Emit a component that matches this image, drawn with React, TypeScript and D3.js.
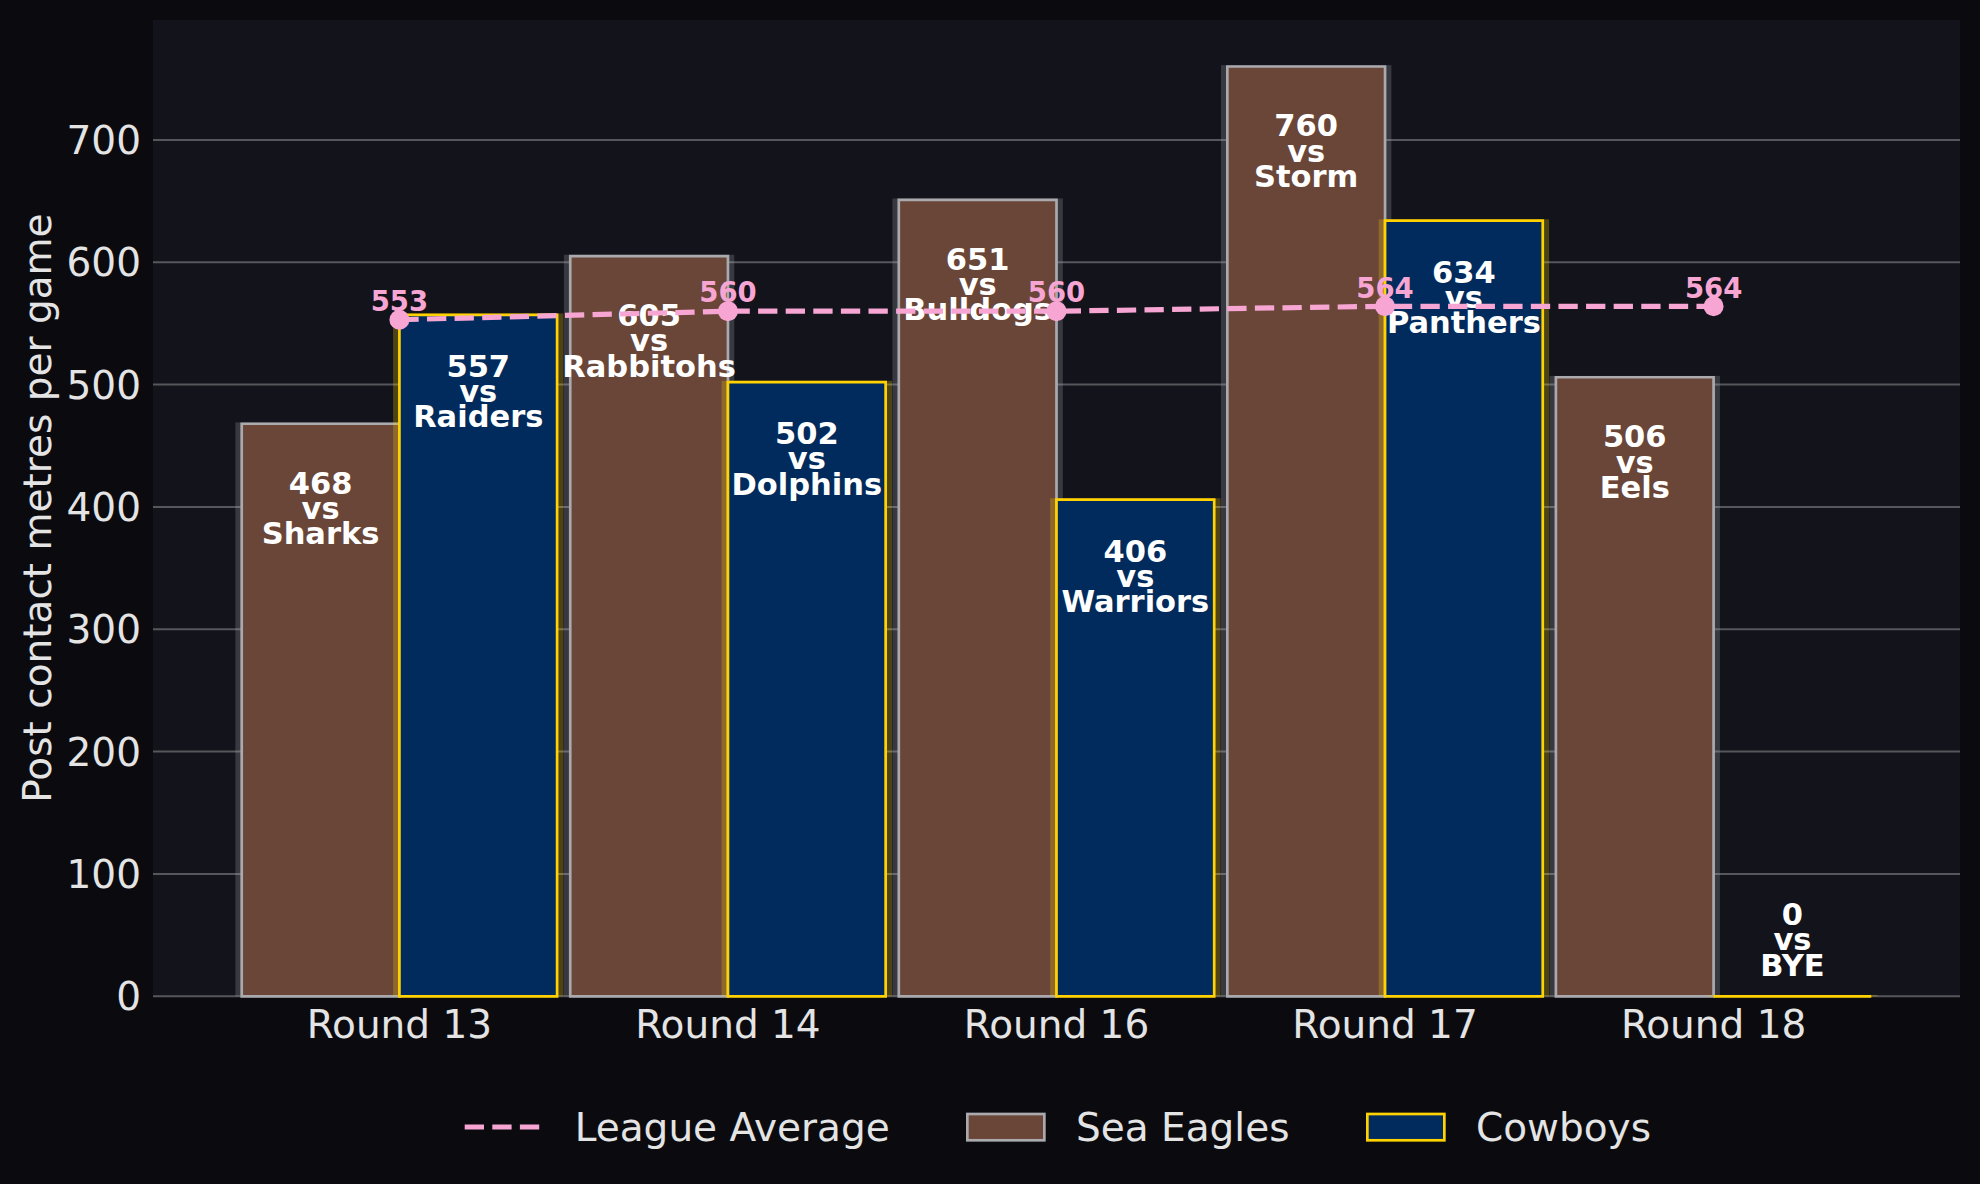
import React, { useEffect } from 'react';
import * as d3 from 'd3';

const rounds = ['Round 13', 'Round 14', 'Round 16', 'Round 17', 'Round 18'];
const seaEagles = [468, 605, 651, 760, 506];
const cowboys = [557, 502, 406, 634, 0];
const seaEaglesOpp = ['Sharks', 'Rabbitohs', 'Bulldogs', 'Storm', 'Eels'];
const cowboysOpp = ['Raiders', 'Dolphins', 'Warriors', 'Panthers', 'BYE'];
const leagueAvg = [553, 560, 560, 564, 564];
const yTicks = [0, 100, 200, 300, 400, 500, 600, 700];
const legendLabels = ['League Average', 'Sea Eagles', 'Cowboys'];

const W = 1980;
const H = 1184;
const FONT = "'DejaVu Sans', 'Liberation Sans', sans-serif";
const BG = '#0b0b0f';
const PLOT_BG = '#13131b';
const GRID = '#56565c';
const TEXT = '#e4e4e4';
const PINK = '#f7a6d3';
const SE_FILL = '#6a4638';
const SE_EDGE = '#a9a9ae';
const CB_FILL = '#002b5c';
const CB_EDGE = '#ffd200';
const MAIN_FS = 39;
const BAR_FS = 30.5;
const AVG_FS = 27.5;

const plot = { left: 153, right: 1960, top: 20, bottom: 996.3 };

export default function App() {
  useEffect(() => {
    document.body.style.margin = '0';
    document.body.style.background = BG;
  }, []);

  const x = d3.scaleLinear().domain([-0.75, 4.75]).range([plot.left, plot.right]);
  const y = d3.scaleLinear().domain([0, 798]).range([plot.bottom, plot.top]);
  const bw = 0.48;
  const pxW = x(bw) - x(0);

  const series = [
    { name: 'Sea Eagles', values: seaEagles, opp: seaEaglesOpp, fill: SE_FILL, edge: SE_EDGE, off: -bw, labelOff: 70 },
    { name: 'Cowboys', values: cowboys, opp: cowboysOpp, fill: CB_FILL, edge: CB_EDGE, off: 0, labelOff: 62 },
  ];

  const barPath = (x0: number, y0: number, w: number, h: number) => {
    const p = d3.path();
    p.moveTo(x0, y0);
    p.lineTo(x0 + w, y0);
    p.lineTo(x0 + w, y0 + h);
    p.lineTo(x0, y0 + h);
    p.closePath();
    return p.toString();
  };

  const line = d3
    .line<number>()
    .x((_, i) => x(i))
    .y((d) => y(d));

  const lineH = 25.3;
  const legendY = 1127;
  const legendX = [464.7, 966, 1366];

  return (
    <svg
      width={W}
      height={H}
      style={{ position: 'absolute', left: 0, top: 0, display: 'block', background: BG }}
      fontFamily={FONT}
    >
      <rect x={0} y={0} width={W} height={H} fill={BG} />
      <rect x={plot.left} y={plot.top} width={plot.right - plot.left} height={plot.bottom - plot.top} fill={PLOT_BG} />

      {/* grid */}
      {yTicks.map((t) => (
        <line key={'g' + t} x1={plot.left} x2={plot.right} y1={y(t)} y2={y(t)} stroke={GRID} strokeWidth={2} />
      ))}

      {/* bars */}
      {series.map((s) => (
        <g key={s.name}>
          {s.values.map((v, i) => {
            const x0 = x(i + s.off);
            const top = y(v);
            return (
              <rect
                key={'sh' + i}
                x={x0 - 6.35}
                y={top - 1.35}
                width={pxW + 12.7}
                height={y(0) - top + 1.35}
                fill={s.edge}
                opacity={0.25}
              />
            );
          })}
          {s.values.map((v, i) => {
            const x0 = x(i + s.off);
            const top = y(v);
            return (
              <path
                key={'b' + i}
                d={barPath(x0, top, pxW, y(0) - top)}
                fill={s.fill}
                stroke={s.edge}
                strokeWidth={2.7}
              />
            );
          })}
        </g>
      ))}

      {/* bar labels */}
      {series.map((s) =>
        s.values.map((v, i) => {
          const cx = x(i + s.off + bw / 2);
          const top = y(v);
          const lines = [String(v), 'vs', s.opp[i]];
          const firstBase = v > 60 ? top + s.labelOff : top - 20.6 - 2 * lineH;
          return (
            <text
              key={s.name + 'l' + i}
              x={cx}
              y={firstBase}
              textAnchor="middle"
              fill="#ffffff"
              fontWeight="bold"
              fontSize={BAR_FS}
            >
              {lines.map((t, k) => (
                <tspan key={k} x={cx} y={firstBase + k * lineH}>
                  {t}
                </tspan>
              ))}
            </text>
          );
        })
      )}

      {/* league average line */}
      <path
        d={line(leagueAvg) || ''}
        fill="none"
        stroke={PINK}
        strokeWidth={5.2}
        strokeDasharray="19.3 8.3"
      />
      {leagueAvg.map((v, i) => (
        <circle key={'m' + i} cx={x(i)} cy={y(v)} r={10} fill={PINK} />
      ))}
      {leagueAvg.map((v, i) => (
        <text
          key={'ml' + i}
          x={x(i)}
          y={y(v) - 8.7}
          textAnchor="middle"
          fill={PINK}
          fontWeight="bold"
          fontSize={AVG_FS}
        >
          {v}
        </text>
      ))}

      {/* y axis tick labels */}
      {yTicks.map((t) => (
        <text
          key={'yt' + t}
          x={141}
          y={y(t)}
          dy="0.36em"
          textAnchor="end"
          fill={TEXT}
          fontSize={MAIN_FS}
        >
          {t}
        </text>
      ))}

      {/* x axis tick labels */}
      {rounds.map((r, i) => (
        <text key={'xt' + i} x={x(i)} y={1038} textAnchor="middle" fill={TEXT} fontSize={MAIN_FS}>
          {r}
        </text>
      ))}

      {/* y axis title */}
      <text
        transform={`translate(51,${(plot.top + plot.bottom) / 2}) rotate(-90)`}
        textAnchor="middle"
        fill={TEXT}
        fontSize={MAIN_FS}
      >
        Post contact metres per game
      </text>

      {/* legend */}
      <g>
        <line
          x1={legendX[0]}
          x2={legendX[0] + 79}
          y1={legendY}
          y2={legendY}
          stroke={PINK}
          strokeWidth={5.2}
          strokeDasharray="19.3 8.3"
        />
        <text x={legendX[0] + 110} y={1141} fill={TEXT} fontSize={MAIN_FS}>
          {legendLabels[0]}
        </text>
        <rect
          x={legendX[1] + 1.35}
          y={1114}
          width={77}
          height={26.3}
          fill={SE_FILL}
          stroke={SE_EDGE}
          strokeWidth={2.7}
        />
        <text x={legendX[1] + 110} y={1141} fill={TEXT} fontSize={MAIN_FS}>
          {legendLabels[1]}
        </text>
        <rect
          x={legendX[2] + 1.35}
          y={1114}
          width={77}
          height={26.3}
          fill={CB_FILL}
          stroke={CB_EDGE}
          strokeWidth={2.7}
        />
        <text x={legendX[2] + 110} y={1141} fill={TEXT} fontSize={MAIN_FS}>
          {legendLabels[2]}
        </text>
      </g>
    </svg>
  );
}
